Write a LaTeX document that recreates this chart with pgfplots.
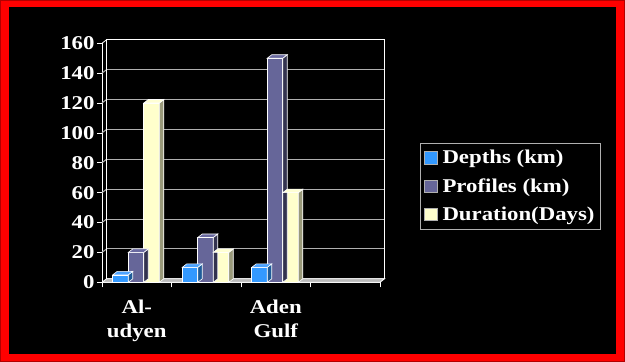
\documentclass[border=0pt]{standalone}
\usepackage{fontspec}
\setmainfont{Liberation Serif}[FakeStretch=1.17]
\usepackage{pgfplots}
\usepackage{pgfplotstable}
\pgfplotsset{compat=1.18}

\definecolor{frame}{HTML}{FF0000}
\definecolor{depthF}{HTML}{3399FF}
\definecolor{depthT}{HTML}{4DA3FF}
\definecolor{depthS}{HTML}{1F5C99}
\definecolor{profF}{HTML}{666699}
\definecolor{profT}{HTML}{6A6AA0}
\definecolor{profS}{HTML}{33334F}
\definecolor{durF}{HTML}{FFFFCC}
\definecolor{durT}{HTML}{FFFFD4}
\definecolor{durS}{HTML}{99997A}
\definecolor{gridc}{HTML}{B0B0B0}

\newcommand\chartfont{\fontsize{19.5bp}{24bp}\selectfont\bfseries}

% survey data: one row per site (the fourth slot is left empty)
\pgfplotstableread{
cat depths profiles duration
0   5      20       120
1   10     30       20
2   10     150      60
}\surveydata

% depth of the 3-D effect
\def\dX{4.5bp}
\def\dY{3.5bp}
\def\bw{15.5}          % column width, bp
\def\yunit{1.49375}    % bp per data unit (239bp over 160)

% top and side faces of a column, placed at the front top centre of the group
% #1 mark name, #2 column shift (bp), #3 top colour, #4 side colour
\newcommand\declarecolumnmark[4]{%
  \pgfdeclareplotmark{#1}{%
    \pgfmathsetmacro\colh{\barval*\yunit}%
    \pgfmathsetmacro\xl{#2-\bw/2}%
    \pgfmathsetmacro\xr{#2+\bw/2}%
    \pgfsetlinewidth{0.6bp}%
    \pgfsetstrokecolor{white}%
    \pgfsetfillcolor{#4}%
    \pgfpathmoveto{\pgfpoint{\xr bp}{0bp}}%
    \pgfpathlineto{\pgfpoint{\xr bp}{-\colh bp}}%
    \pgfpathlineto{\pgfpointadd{\pgfpoint{\xr bp}{-\colh bp}}{\pgfpoint{\dX}{\dY}}}%
    \pgfpathlineto{\pgfpointadd{\pgfpoint{\xr bp}{0bp}}{\pgfpoint{\dX}{\dY}}}%
    \pgfpathclose
    \pgfusepath{fill,stroke}%
    \pgfsetfillcolor{#3}%
    \pgfpathmoveto{\pgfpoint{\xl bp}{0bp}}%
    \pgfpathlineto{\pgfpoint{\xr bp}{0bp}}%
    \pgfpathlineto{\pgfpointadd{\pgfpoint{\xr bp}{0bp}}{\pgfpoint{\dX}{\dY}}}%
    \pgfpathlineto{\pgfpointadd{\pgfpoint{\xl bp}{0bp}}{\pgfpoint{\dX}{\dY}}}%
    \pgfpathclose
    \pgfusepath{fill,stroke}%
  }}
\declarecolumnmark{depthcol}{-16.25}{depthT}{depthS}
\declarecolumnmark{profcol}{-0.75}{profT}{profS}
\declarecolumnmark{durcol}{14.75}{durT}{durS}

\pgfplotsset{
  colleg/.style={legend image code/.code={%
      \draw[##1, draw=gridc, line width=0.6bp] (0bp,-6bp) rectangle (12.5bp,6.5bp);}},
  column/.style={ybar, bar width=15.5bp, bar shift=#1, draw=white, line width=0.6bp},
  columntop/.style={forget plot, only marks, mark=#1,
      visualization depends on={rawy \as \barval}},
}

\begin{document}
\begin{tikzpicture}
\fill[frame] (0,0) rectangle (625bp,362bp);
\draw[red!70!black, line width=1bp] (0.5bp,0.5bp) rectangle (624.5bp,361.5bp);
\fill[black] (9bp,8bp) rectangle (616bp,354.5bp);
\begin{axis}[
  at={(102bp,79.7bp)}, anchor=south west,
  scale only axis, width=278bp, height=239bp,
  xmin=-0.5, xmax=3.5, ymin=0, ymax=160,
  enlargelimits=false, clip=false,
  axis x line*=bottom, axis y line*=left,
  axis line style={white, line width=0.8bp},
  tick align=outside,
  ytick={0,20,...,160},
  major tick length=5bp, minor tick length=5bp,
  y tick style={white, line width=0.8bp},
  xtick={0,1,2,3},
  xticklabels={{Al-\\udyen},{},{Aden\\Gulf},{}},
  major x tick style={draw=none},
  minor xtick={-0.5,0.5,1.5,2.5,3.5},
  minor x tick style={white, line width=0.8bp},
  ymajorgrids,
  major grid style={gridc, line width=1bp, xshift=\dX, yshift=\dY},
  /pgf/number format/assume math mode=true,
  ticklabel style={text=white, font=\chartfont},
  yticklabel style={xshift=1bp},
  xticklabel style={align=center, yshift=-9bp},
  legend style={at={(rel axis cs:1.1439,0.5828)}, anchor=north west,
    fill=black, draw=gridc, line width=0.8bp, text=white, font=\chartfont,
    inner xsep=4bp, inner ysep=5bp, row sep=9.3bp,
    nodes={inner sep=2bp},
    /tikz/every odd column/.append style={column sep=3bp}},
  legend cell align=left,
]
% floor, side wall and back wall
\fill[gray!55, draw=white, line width=0.8bp]
  (axis cs:-0.5,0) -- (axis cs:3.5,0) -- ++(\dX,\dY)
  -- ([shift={(\dX,\dY)}]axis cs:-0.5,0) -- cycle;
\pgfplotsinvokeforeach{20,40,...,140}{
  \draw[gridc, line width=1bp] (axis cs:-0.5,#1) -- ++(\dX,\dY);
}
\draw[white, line width=0.8bp]
  ([shift={(\dX,\dY)}]axis cs:-0.5,0) -- ([shift={(\dX,\dY)}]axis cs:-0.5,160)
  -- ([shift={(\dX,\dY)}]axis cs:3.5,160) -- ([shift={(\dX,\dY)}]axis cs:3.5,0);
\draw[white, line width=0.8bp] (axis cs:-0.5,160) -- ++(\dX,\dY);

\addplot[column=-16.25bp, fill=depthF, colleg] table[x=cat, y=depths] {\surveydata};
\addlegendentry{Depths (km)}
\addplot[columntop=depthcol] table[x=cat, y=depths] {\surveydata};

\addplot[column=-0.75bp, fill=profF, colleg] table[x=cat, y=profiles] {\surveydata};
\addlegendentry{Profiles (km)}
\addplot[columntop=profcol] table[x=cat, y=profiles] {\surveydata};

\addplot[column=14.75bp, fill=durF, colleg] table[x=cat, y=duration] {\surveydata};
\addlegendentry{Duration(Days)}
\addplot[columntop=durcol] table[x=cat, y=duration] {\surveydata};
\end{axis}
\end{tikzpicture}
\end{document}
